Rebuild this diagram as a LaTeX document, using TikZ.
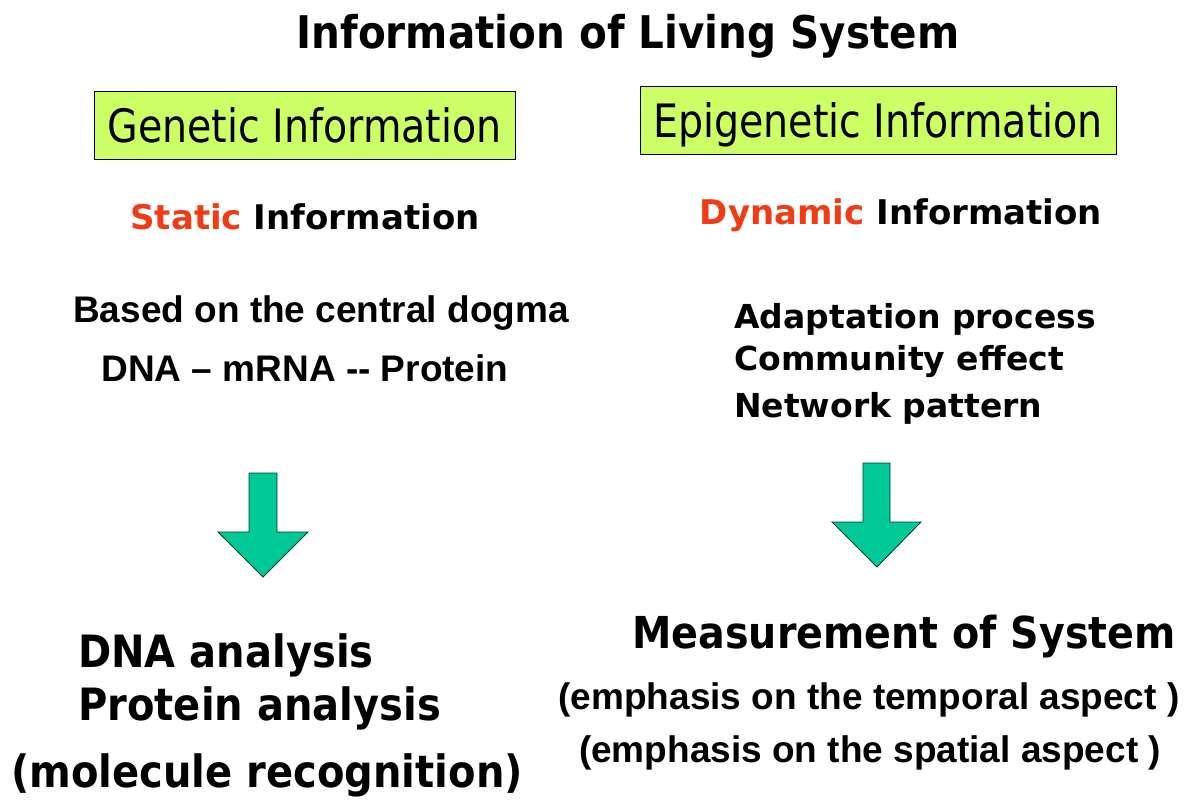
\documentclass[tikz,border=0pt]{standalone}
\usepackage{fontspec}
\setmainfont{Liberation Sans}
\newfontfamily\tahomaB[FakeStretch=0.9]{DejaVu Sans Bold}
\newfontfamily\tahomaR[FakeStretch=0.86]{DejaVu Sans}
\newfontfamily\verdanaB{DejaVu Sans Bold}
\newfontfamily\arialB{Liberation Sans Bold}
\definecolor{boxgreen}{RGB}{204,255,102}
\definecolor{hired}{RGB}{240,60,20}
\definecolor{arrowgreen}{RGB}{0,200,150}
\begin{document}
\begin{tikzpicture}[x=1pt,y=-1pt,
  txt/.style={inner sep=0pt,text=black},
  greenbox/.style={draw=black,line width=0.8pt,fill=boxgreen,inner sep=0pt,text height=35pt,text depth=1pt},
  downarrow/.style={draw=black!70!arrowgreen,line width=0.8pt,fill=arrowgreen,line join=miter}]
\useasboundingbox (0,0) rectangle (1196,808);
\fill[white] (0,0) rectangle (1196,808);
% title
\node[txt] (title) at (628,36) {\fontsize{45}{54}\tahomaB Information of Living System};
% boxes
\node[greenbox,minimum width=421pt,minimum height=68pt] (gen) at (304.5,125) {\fontsize{46}{54}\tahomaR Genetic Information};
\node[greenbox,minimum width=476pt,minimum height=68pt] (epi) at (878,120) {\fontsize{46}{54}\tahomaR Epigenetic Information};
% static / dynamic
\node[txt] (static) at (305,217) {\fontsize{34}{40}\verdanaB\textcolor{hired}{Static} Information};
\node[txt] (dynamic) at (901,215) {\fontsize{34}{40}\verdanaB\textcolor{hired}{Dynamic} Information};
% left descriptions
\node[txt] (dogma) at (321,313) {\fontsize{37}{44}\arialB Based on the central dogma};
\node[txt] (dna) at (305,368) {\fontsize{37}{44}\arialB DNA – mRNA -{}- Protein};
% right descriptions
\node[txt,anchor=west] (adapt) at (734,319) {\fontsize{33}{40}\verdanaB Adaptation process};
\node[txt,anchor=west] (comm) at (734,362) {\fontsize{33}{40}\verdanaB Community effect};
\node[txt,anchor=west] (net) at (734,408) {\fontsize{33}{40}\verdanaB Network pattern};
% arrows
\draw[downarrow] (249,473) -- (277,473) -- (277,532) -- (308,532) -- (263,577) -- (218,532) -- (249,532) -- cycle;
\draw[downarrow] (863,463) -- (890,463) -- (890,522) -- (921,522) -- (877,567) -- (832,522) -- (863,522) -- cycle;
% bottom left
\node[txt,anchor=west] (dnaan) at (78,655) {\fontsize{44.5}{52}\tahomaB DNA analysis};
\node[txt,anchor=west] (protan) at (78,708) {\fontsize{44.5}{52}\tahomaB Protein analysis};
\node[txt] (molrec) at (267,775) {\fontsize{44.5}{52}\tahomaB (molecule recognition)};
% bottom right
\node[txt] (meas) at (904,637) {\fontsize{44}{52}\tahomaB Measurement of System};
\node[txt] (temp) at (869,700) {\fontsize{37}{44}\arialB (emphasis on the temporal aspect )};
\node[txt] (spat) at (870,753) {\fontsize{37}{44}\arialB (emphasis on the spatial aspect )};
\end{tikzpicture}
\end{document}
